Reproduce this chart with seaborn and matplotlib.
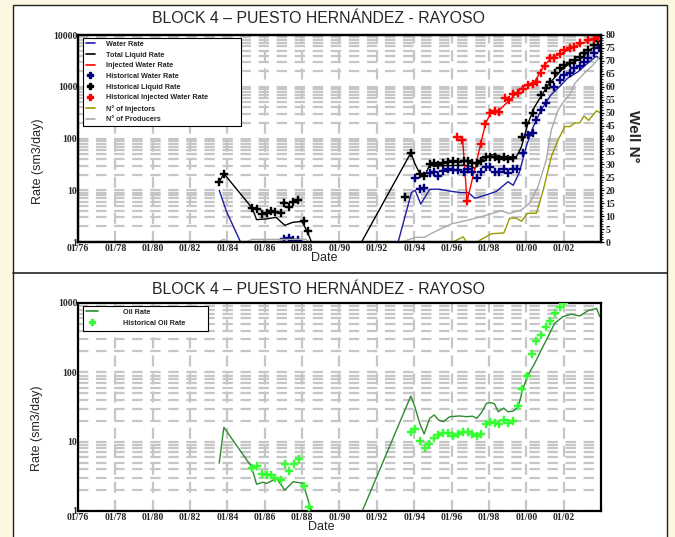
import numpy as np
import pandas as pd
import matplotlib
matplotlib.use("Agg")
import matplotlib.pyplot as plt
import seaborn as sns
from matplotlib.lines import Line2D
from matplotlib.patches import Rectangle
from matplotlib.ticker import FixedLocator, LogLocator, MultipleLocator, FuncFormatter, NullFormatter

# ---------------------------------------------------------------- data
# Top panel: production / injection rates (sm3/day) versus decimal year
liquid_line_years = [1983.56, 1983.81, 1985.33, 1985.56, 1986.10, 1986.60, 1987.07, 1987.50, 1988.00,
                     1988.30, 1988.50,
                     1991.18, 1993.82, 1994.03, 1994.30, 1994.53, 1994.83, 1995.10, 1995.45, 1996.00,
                     1996.60, 1997.00, 1997.24, 1997.60, 1997.90, 1998.31, 1998.66, 1999.00, 1999.47,
                     1999.74, 2000.09, 2000.45, 2001.16, 2001.88, 2002.25, 2002.95, 2003.49, 2003.84, 2003.98]
liquid_line_rate = [14.5, 21, 4.5, 2.7, 2.8, 3.0, 2.1, 2.4, 2.5, 1.5, 1.0,
                    1.0, 53, 33, 21, 18.3, 30.7, 29, 30, 30,
                    30.5, 29, 26.5, 38, 45, 50, 42, 44, 44.5,
                    69, 196, 412, 1075, 2100, 2700, 3540, 5500, 5900, 5500]
liquid_line_seg = [0] * 11 + [1] * 28

water_line_years = [1983.56, 1983.95, 1984.70,
                    1993.14, 1993.85, 1994.05, 1994.35, 1994.83, 1995.30, 1996.00, 1996.50, 1996.90,
                    1997.24, 1997.80, 1998.40, 1999.02, 1999.30, 1999.63, 1999.99, 2000.34, 2000.79,
                    2001.32, 2001.86, 2002.20, 2002.78, 2003.31, 2003.76, 2003.97]
water_line_rate = [10, 3.9, 1.0,
                   1.0, 9.0, 10, 5.4, 10.4, 10.5, 9.5, 9.0, 9.0,
                   7.0, 8.0, 9.5, 14.6, 12.5, 22, 69, 158, 355,
                   695, 1075, 1450, 1960, 2900, 3900, 3400]
water_line_seg = [0] * 3 + [1] * 25

injected_line_years = [1996.60, 1996.83, 1997.56, 1997.81, 1998.13, 1998.56, 1999.02, 1999.38, 1999.83,
                       2000.45, 2000.98, 2001.32, 2002.06, 2002.78, 2003.50, 2003.95]
injected_line_rate = [87, 6.2, 78, 190, 330, 355, 515, 695, 1000,
                      1260, 2640, 3540, 4780, 6450, 8000, 9300]

hist_liquid_years = [1983.56, 1983.81, 1985.33, 1985.56, 1985.83, 1986.10, 1986.31, 1986.56, 1986.86,
                     1987.04, 1987.27, 1987.52, 1987.79, 1988.09, 1988.32,
                     1993.53, 1993.82, 1994.30, 1994.53, 1994.83, 1995.07, 1995.30, 1995.56, 1995.83,
                     1996.10, 1996.37, 1996.64, 1996.87, 1997.12, 1997.35, 1997.58, 1997.83, 1998.06,
                     1998.30, 1998.55, 1998.79, 1999.02, 1999.27, 1999.76, 2000.00, 2000.34, 2000.79,
                     2001.05, 2001.29, 2001.54, 2001.79, 2002.04, 2002.32, 2002.59, 2002.86, 2003.09,
                     2003.30, 2003.60, 2003.84]
hist_liquid_rate = [14.6, 20.6, 4.5, 4.3, 3.5, 3.6, 4.0, 3.8, 3.6,
                    5.7, 4.7, 5.9, 6.5, 2.5, 1.6,
                    7.3, 53, 21, 18.5, 32, 33, 31, 34, 35.5,
                    36.5, 35.5, 37.5, 36.5, 33.5, 33, 36.5, 43, 44.5,
                    43, 39.5, 43, 40.5, 42, 108, 196, 308, 695,
                    935, 1260, 1820, 2300, 2600, 2850, 3300, 3800, 4550,
                    5100, 6450, 7500]

hist_water_years = [1987.04, 1987.27, 1987.52, 1987.79,
                    1994.03, 1994.30, 1994.53, 1994.83, 1995.07, 1995.30, 1995.56, 1995.83, 1996.10,
                    1996.37, 1996.64, 1996.87, 1997.12, 1997.35, 1997.58, 1997.83, 1998.06, 1998.30,
                    1998.55, 1998.79, 1999.02, 1999.27, 1999.50, 1999.84, 2000.09, 2000.34, 2000.54,
                    2000.77, 2001.05, 2001.50, 2001.80, 2002.04, 2002.32, 2002.58, 2002.86, 2003.10,
                    2003.30, 2003.60, 2003.87]
hist_water_rate = [1.15, 1.2, 1.1, 1.1,
                   17, 10.4, 11, 21.8, 23, 19, 24, 25.5, 24.5,
                   24.5, 23, 25.5, 23, 17, 23, 28.5, 28.5, 22.5,
                   22.5, 25.5, 22, 25.5, 26, 52, 117, 126, 228,
                   355, 480, 1000, 1350, 1700, 1820, 2300, 2500, 3000,
                   3650, 4550, 5500]

hist_injected_years = [1996.30, 1996.55, 1996.83, 1997.56, 1997.81, 1998.04, 1998.30, 1998.56, 1998.84,
                       1999.05, 1999.30, 1999.55, 1999.80, 2000.09, 2000.34, 2000.56, 2000.77, 2001.00,
                       2001.29, 2001.50, 2001.79, 2002.04, 2002.32, 2002.58, 2002.86, 2003.30, 2003.60,
                       2003.84]
hist_injected_rate = [105, 95, 6.2, 78, 190, 308, 340, 330, 600,
                      550, 720, 760, 890, 1075, 1150, 1260, 1820, 2500,
                      3540, 3540, 4300, 5100, 5600, 5800, 6900, 8000, 8300,
                      9100]

# Well counts (right axis)
producers_years = [1983.50, 1983.80, 1984.10, 1985.00, 1985.30, 1988.20, 1988.40, 1993.30, 1994.10,
                   1994.55, 1995.10, 1996.00, 1996.90, 1997.60, 1998.66, 1999.10, 1999.74, 2000.18,
                   2000.63, 2001.07, 2001.34, 2001.70, 2002.06, 2002.33, 2002.60, 2003.10, 2003.59, 2003.93]
producers_count = [0, 1, 0, 0, 1, 1, 0, 0, 1.8,
                   1.8, 4, 7, 8.5, 9.8, 12.1, 11, 12.4, 15,
                   21.4, 31.7, 43.3, 51, 54.9, 57, 61.3, 65.2, 68.5, 71.6]

injectors_years = [1996.08, 1996.62, 1996.80, 1997.35, 1997.69, 1998.13, 1998.80, 1999.11, 1999.47,
                   1999.74, 2000.06, 2000.54, 2000.91, 2001.34, 2001.70, 2002.06, 2002.33, 2002.60,
                   2002.86, 2003.09, 2003.34, 2003.76, 2003.94]
injectors_count = [0, 2, 0, 0, 1.4, 3.2, 3.5, 9.2, 9.2,
                   8, 11.1, 11.1, 20.1, 33, 39.4, 44.6, 44.6, 46,
                   46, 48.7, 47, 50.7, 50]

# Bottom panel: oil rate
oil_line_years = [1983.56, 1983.81, 1985.29, 1985.56, 1985.90, 1986.10, 1986.63, 1987.07, 1987.52,
                  1988.05, 1988.50,
                  1991.22, 1993.82, 1994.03, 1994.30, 1994.53, 1994.83, 1995.07, 1995.30, 1995.56,
                  1995.90, 1996.43, 1996.80, 1997.12, 1997.35, 1997.60, 1997.87, 1998.14, 1998.30,
                  1998.50, 1998.79, 1999.02, 1999.30, 1999.56, 1999.83, 2000.09, 2000.45, 2000.80,
                  2001.16, 2001.52, 2001.96, 2002.41, 2002.86, 2003.30, 2003.76, 2003.94]
oil_line_rate = [4.9, 16.1, 4.35, 2.43, 2.6, 2.5, 2.96, 2.0, 2.65,
                 2.5, 1.0,
                 1.0, 45.6, 32, 18.3, 12.9, 21.7, 24.3, 20.5, 19.5,
                 22.9, 23.5, 22.9, 23.3, 21.7, 26.2, 35.7, 36.5, 35,
                 27, 30.5, 27, 27.6, 31.5, 59, 91, 135, 210,
                 325, 510, 635, 690, 650, 775, 835, 635]
oil_line_seg = [0] * 11 + [1] * 35

hist_oil_years = [1985.29, 1985.56, 1985.83, 1986.10, 1986.31, 1986.56, 1986.86, 1987.06, 1987.29,
                  1987.54, 1987.82, 1988.09, 1988.35,
                  1993.82, 1994.03, 1994.30, 1994.56, 1994.80, 1995.07, 1995.30, 1995.56, 1995.83,
                  1996.10, 1996.37, 1996.60, 1996.87, 1997.10, 1997.35, 1997.58, 1997.83, 1998.06,
                  1998.30, 1998.55, 1998.79, 1999.02, 1999.30, 1999.56, 1999.79, 2000.03, 2000.28,
                  2000.54, 2000.77, 2001.05, 2001.29, 2001.54, 2001.80, 2002.04]
hist_oil_rate = [4.2, 4.46, 3.42, 3.3, 3.3, 2.96, 2.8, 4.76, 3.77,
                 4.8, 5.7, 2.3, 1.13,
                 13.6, 15.2, 10.3, 8.0, 9.2, 11.2, 12.5, 13.5, 13.5,
                 12, 13.1, 13.9, 13.7, 12.8, 12, 13.1, 17.8, 19,
                 18.8, 17.8, 20.5, 18.8, 20, 32.7, 57.5, 88.5, 182,
                 283, 346, 455, 556, 725, 870, 1000]

year_ticks = list(range(1976, 2004, 2))
year_labels = ["01/%02d" % (y % 100) for y in year_ticks]
title_text = "BLOCK 4 \u2013 PUESTO HERN\u00c1NDEZ - RAYOSO"

# ---------------------------------------------------------------- style
C_WATER = "#1c1ca6"
C_WATER_PT = "#000080"
C_LIQUID = "#000000"
C_INJ = "#ff0000"
C_INJECTORS = "#999900"
C_PRODUCERS = "#aaaaaa"
C_OIL = "#2e8b2e"
C_OIL_PT = "#33ff33"
GRID_C = "#c6c6c6"

sns.set_theme(style="white")
plt.rcParams["lines.scale_dashes"] = False
plt.rcParams["font.family"] = ["Liberation Sans", "DejaVu Sans"]

W, H = 675, 537
fig = plt.figure(figsize=(W / 100, H / 100), dpi=100)
fig.patch.set_facecolor("#fcf7e0")


def fx(x):
    return x / W


def fy(y):
    return 1 - y / H


# white sheet with frame and a divider between the two panels
fig.patches.append(Rectangle((fx(13), fy(545)), fx(667) - fx(13), fy(5) - fy(545),
                             transform=fig.transFigure, facecolor="white",
                             edgecolor="#222222", lw=1.0, zorder=-10))
fig.add_artist(Line2D([fx(13), fx(667)], [fy(273), fy(273)], transform=fig.transFigure,
                      color="#222222", lw=1.2, zorder=-5))

ax_top = fig.add_axes([fx(78), fy(242), (601 - 78) / W, (242 - 35) / H])
ax_bot = fig.add_axes([fx(78), fy(511), (601 - 78) / W, (511 - 303) / H])

tick_font = dict(family="Liberation Serif", weight="bold", size=7)


def draw_line(ax, years, vals, color, seg=None, lw=1.0):
    if seg is None:
        seg = [0] * len(years)
    df = pd.DataFrame({"Date": years, "Rate": vals, "seg": seg})
    sns.lineplot(data=df, x="Date", y="Rate", units="seg", estimator=None, sort=False,
                 color=color, lw=lw, ax=ax, legend=False)


def draw_points(ax, years, vals, color, size=28):
    sns.scatterplot(x=years, y=vals, marker="P", s=size, color=color, edgecolor=color,
                    linewidth=0.3, ax=ax, legend=False, zorder=4)


def style_log_axes(ax, ymax):
    ax.set_yscale("log")
    ax.set_xlim(1976, 2004)
    ax.set_ylim(1, ymax)
    ax.set_xlabel("")
    ax.set_ylabel("")
    ax.xaxis.set_major_locator(FixedLocator(year_ticks))
    ax.set_xticklabels(year_labels)
    ax.yaxis.set_major_locator(LogLocator(base=10))
    ax.yaxis.set_minor_locator(LogLocator(base=10, subs=np.arange(2, 10)))
    ax.yaxis.set_major_formatter(FuncFormatter(lambda v, p: "%d" % round(v)))
    ax.yaxis.set_minor_formatter(NullFormatter())
    ax.tick_params(axis="both", which="both", length=0, pad=1.5)
    ax.tick_params(axis="y", pad=0.5)
    ax.yaxis.grid(True, which="both", color=GRID_C, lw=1.6, linestyle=(0, (7.5, 5.5)))
    ax.xaxis.grid(True, which="major", color=GRID_C, lw=1.6, linestyle=(0, (8, 5)))
    ax.set_axisbelow(True)
    for lab in ax.get_xticklabels() + ax.get_yticklabels():
        lab.set_fontproperties(tick_font)
    for sp in ax.spines.values():
        sp.set_color("black")
        sp.set_linewidth(1.6)


def legend_box(ax, x0, y0, x1, y1):
    """White framed box behind a legend, given in figure pixels."""
    ax.add_patch(Rectangle((fx(x0), fy(y1)), fx(x1) - fx(x0), fy(y0) - fy(y1),
                           transform=fig.transFigure, facecolor="white",
                           edgecolor="black", lw=0.8, zorder=4.6, clip_on=False))


# ---------------------------------------------------------------- top panel
draw_line(ax_top, water_line_years, water_line_rate, C_WATER, water_line_seg)
draw_line(ax_top, liquid_line_years, liquid_line_rate, C_LIQUID, liquid_line_seg)
draw_line(ax_top, injected_line_years, injected_line_rate, C_INJ)
draw_points(ax_top, hist_water_years, hist_water_rate, C_WATER_PT)
draw_points(ax_top, hist_liquid_years, hist_liquid_rate, C_LIQUID)
draw_points(ax_top, hist_injected_years, hist_injected_rate, C_INJ)
style_log_axes(ax_top, 10000)

ax_wells = ax_top.twinx()
draw_line(ax_wells, injectors_years, injectors_count, C_INJECTORS)
draw_line(ax_wells, producers_years, producers_count, C_PRODUCERS)
ax_wells.set_ylim(0, 80)
ax_wells.set_xlim(1976, 2004)
ax_wells.set_ylabel("")
ax_wells.yaxis.set_major_locator(MultipleLocator(5))
ax_wells.yaxis.set_minor_locator(MultipleLocator(1))
ax_wells.tick_params(axis="y", which="major", length=2.5, width=0.8, color="black", pad=0.8,
                     direction="out")
ax_wells.tick_params(axis="y", which="minor", length=1.2, width=0.6, color="black",
                     direction="out")
for lab in ax_wells.get_yticklabels():
    lab.set_fontproperties(tick_font)
for sp in ax_wells.spines.values():
    sp.set_color("black")
    sp.set_linewidth(1.6)

legend_font = dict(family="Liberation Sans", weight="bold", size=5.2)
top_handles = [
    Line2D([], [], color=C_WATER, lw=1.2),
    Line2D([], [], color=C_LIQUID, lw=1.2),
    Line2D([], [], color=C_INJ, lw=1.2),
    Line2D([], [], color=C_WATER_PT, lw=0, marker="P", markersize=4.5),
    Line2D([], [], color=C_LIQUID, lw=0, marker="P", markersize=4.5),
    Line2D([], [], color=C_INJ, lw=0, marker="P", markersize=4.5),
    Line2D([], [], color=C_INJECTORS, lw=1.2),
    Line2D([], [], color=C_PRODUCERS, lw=1.2),
]
top_labels = ["Water Rate", "Total Liquid Rate", "Injected Water Rate", "Historical Water Rate",
              "Historical Liquid Rate", "Historical Injected Water Rate", "N\u00b0 of Injectors",
              "N\u00b0 of Producers"]
legend_box(ax_wells, 83, 38, 241, 126)
leg = ax_wells.legend(top_handles, top_labels, loc="upper left",
                      bbox_to_anchor=((83 - 78) / 523, 0, 1, 1 - (38 - 35) / 207),
                      bbox_transform=ax_wells.transAxes, borderaxespad=0,
                      prop=legend_font, frameon=False, handlelength=1.2, handletextpad=1.6,
                      labelspacing=0.5, borderpad=0.4)
leg.set_zorder(5)

# ---------------------------------------------------------------- bottom panel
draw_line(ax_bot, oil_line_years, oil_line_rate, C_OIL, oil_line_seg)
draw_points(ax_bot, hist_oil_years, hist_oil_rate, C_OIL_PT, size=30)
style_log_axes(ax_bot, 1000)

bot_handles = [Line2D([], [], color=C_OIL, lw=1.2),
               Line2D([], [], color=C_OIL_PT, lw=0, marker="P", markersize=4.5)]
legend_box(ax_bot, 83, 306, 208, 331)
leg2 = ax_bot.legend(bot_handles, ["Oil Rate", "Historical Oil Rate"], loc="upper left",
                     bbox_to_anchor=((83 - 78) / 523, 0, 1, 1 - (306 - 303) / 208),
                     bbox_transform=ax_bot.transAxes, borderaxespad=0,
                     prop=legend_font, frameon=False, handlelength=1.7, handletextpad=3.4,
                     labelspacing=0.5, borderpad=0.4)
leg2.set_zorder(5)

# ---------------------------------------------------------------- texts
for ty in (18.5, 289):
    fig.text(fx(318), fy(ty), title_text, ha="center", va="center", fontsize=11.4,
             family=["Liberation Sans", "DejaVu Sans"])
fig.text(fx(38), fy(161), "Rate (sm3/day)", rotation=90, ha="center", va="center", fontsize=9)
fig.text(fx(37), fy(428), "Rate (sm3/day)", rotation=90, ha="center", va="center", fontsize=9)
fig.text(fx(324), fy(258), "Date", ha="center", va="center", fontsize=9)
fig.text(fx(321), fy(527), "Date", ha="center", va="center", fontsize=9)
fig.text(fx(633), fy(136), "Well N\u00b0", rotation=270, ha="center", va="center",
         fontsize=11, weight="bold")

fig.savefig("out.png", dpi=100, facecolor=fig.get_facecolor())
